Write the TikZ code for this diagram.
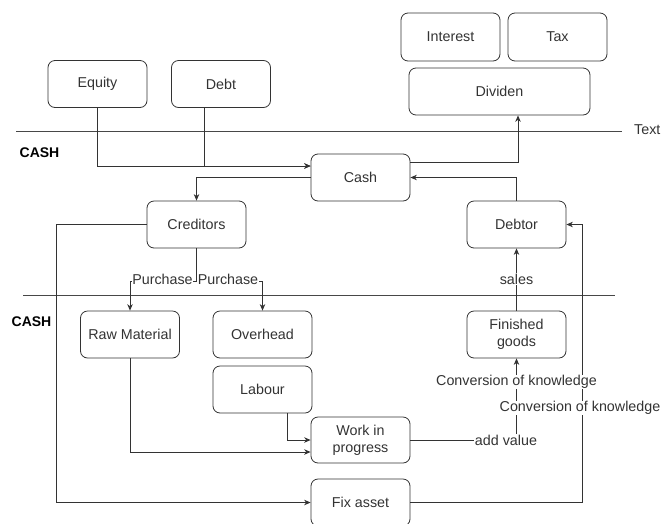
\documentclass[tikz,border=0pt]{standalone}
\usepackage{fontspec}
\setmainfont{Liberation Sans}
\usetikzlibrary{arrows.meta,calc}
\definecolor{ink}{HTML}{333333}
\tikzset{
  box/.style={draw=ink, line width=0.8pt, rounded corners=7pt, fill=white,
    minimum width=99pt, minimum height=47pt, inner sep=2pt, text=ink,
    font=\fontsize{14.3}{17}\selectfont, align=center},
  conn/.style={draw=ink, line width=0.8pt},
  arr/.style={conn, -{Stealth[length=6.5pt,width=5.5pt]}},
  lbl/.style={fill=white, text=ink, inner sep=0.5pt, font=\fontsize{14.3}{17}\selectfont},
  sep/.style={draw=ink!90, line width=0.8pt},
  plain/.style={text=ink, inner sep=0pt, font=\fontsize{14.3}{17}\selectfont},
  heading/.style={text=black, inner sep=0pt, font=\fontsize{14}{17}\selectfont\bfseries},
}
\begin{document}
\begin{tikzpicture}[x=1pt,y=-1pt]
\clip (0,0) rectangle (664,523);
\fill[white] (0,0) rectangle (664,523);

% separators
\coordinate (s1a) at (16,131);
\coordinate (s1b) at (622,131);
\coordinate (s2a) at (23,295);
\coordinate (s2b) at (615,295);
\draw[sep] (s1a) -- (s1b);
\draw[sep] (s2a) -- (s2b);
\node[plain, anchor=west] (textlbl) at (634,130) {Text};
\node[heading] (cash1) at (39.5,153) {CASH};
\node[heading] (cash2) at (31.5,322) {CASH};

% boxes
\node[box] (equity) at (97.5,84) {Equity};
\node[box] (debt) at (221,84) {Debt};
\node[box, minimum height=48pt] (interest) at (450.5,37) {Interest};
\node[box, minimum height=48pt] (tax) at (557.5,37) {Tax};
\node[box, minimum width=181pt] (dividen) at (499.5,91.5) {Dividen};
\node[box] (cash) at (360.5,177.5) {Cash};
\node[box] (creditors) at (196.5,224.5) {Creditors};
\node[box] (debtor) at (516.5,224.5) {Debtor};
\node[box] (raw) at (130,334.5) {Raw Material};
\node[box] (overhead) at (262.5,334.5) {Overhead};
\node[box] (labour) at (262.5,389.5) {Labour};
\node[box, minimum height=46pt] (wip) at (360.5,440) {Work in\\progress};
\node[box] (finished) at (516.5,334.5) {Finished\\goods};
\node[box] (fixasset) at (360.5,502.5) {Fix asset};

% connectors
\draw[arr] (equity.south) |- ($(cash.west)+(0,-11.5)$);
\draw[arr] ($(debt.south)+(-17,0)$) |- ($(cash.west)+(0,-11.5)$);
\draw[arr] (cash.west) -| (creditors.north);
\draw[arr] ($(cash.east)+(0,-15.5)$) -| ($(dividen.south)+(18.5,0)$);
\draw[arr] (debtor.north) |- (cash.east);
\draw[arr] (creditors.west) -- ++(-90,0) |- (fixasset.west);
\draw[arr] (creditors.south) -- ++(0,33) -| (raw.north);
\draw[arr] (creditors.south) -- ++(0,33) -| (overhead.north);
\draw[arr] ($(labour.south)+(24.5,0)$) |- (wip.west);
\draw[arr] (raw.south) |- ($(wip.west)+(0,12)$);
\draw[arr] (wip.east) -| (finished.south);
\draw[arr] (fixasset.east) -- ++(171.5,0) |- (debtor.east);
\draw[arr] (finished.north) -- (debtor.south);

% connector labels
\node[lbl] (p1) at (162.5,279) {Purchase};
\node[lbl] (p2) at (228,279) {Purchase};
\node[lbl] (sales) at (516.5,279) {sales};
\node[lbl] (addv) at (506,440) {add value};
\node[lbl] (conv1) at (516.5,382) {Conversion of knowledge};
\node[lbl] (conv2) at (580,408) {Conversion of knowledge};
\end{tikzpicture}
\end{document}
